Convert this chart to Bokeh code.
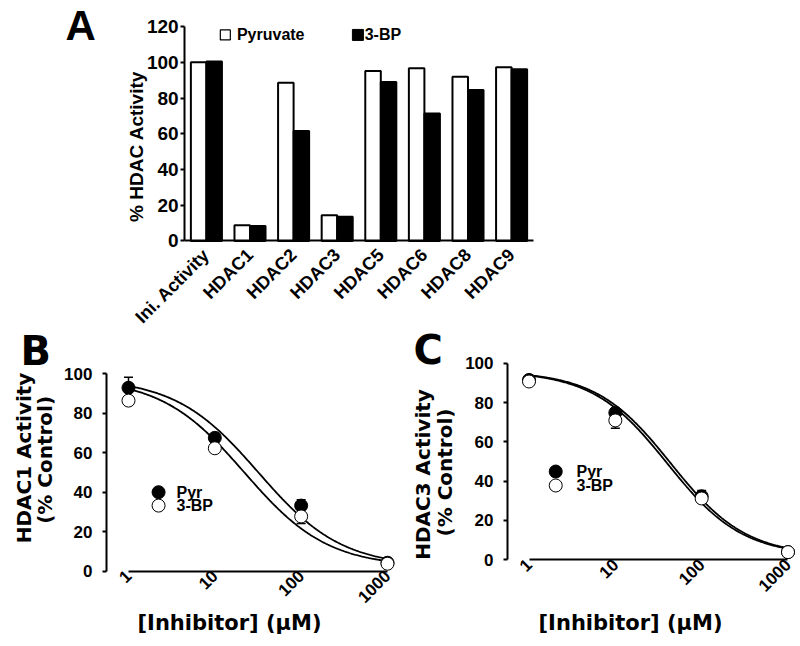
import math
import numpy as np
from bokeh.plotting import figure
from bokeh.layouts import column, row
from bokeh.models import (FactorRange, ColumnDataSource, Label, FixedTicker,
                          PrintfTickFormatter, Whisker, TeeHead, Range1d)
from bokeh.transform import dodge
from bokeh.core.properties import value
from bokeh.embed import file_html
from bokeh.resources import INLINE

# ---------------- Panel A data ----------------
hdac_groups = ["Ini. Activity", "HDAC1", "HDAC2", "HDAC3", "HDAC5", "HDAC6", "HDAC8", "HDAC9"]
pyruvate_pct = [100.0, 8.8, 88.6, 14.4, 95.1, 96.6, 91.9, 97.2]
bromopyruvate_pct = [100.4, 8.4, 61.5, 13.5, 88.9, 71.4, 84.5, 96.1]
a_yticks = [0, 20, 40, 60, 80, 100, 120]

# ---------------- Panels B / C data ----------------
conc_um = [1, 10, 100, 1000]
conc_ticks = [1, 10, 100, 1000]
dose_yticks = [0, 20, 40, 60, 80, 100]
b_pyr_mean = [93.0, 67.6, 33.2, 4.2]
b_pyr_err = [5.4, 2.0, 3.0, 0.5]
b_bp_mean = [86.5, 62.3, 27.7, 3.7]
b_bp_err = [2.0, 2.0, 3.6, 0.5]
c_pyr_mean = [91.5, 74.8, 32.3, 3.9]
c_pyr_err = [1.0, 1.5, 3.0, 0.5]
c_bp_mean = [90.7, 70.9, 31.2, 3.9]
c_bp_err = [1.0, 4.0, 1.5, 0.5]
# fitted logistic curves: top, bottom, IC50 (uM), Hill slope
b_pyr_fit = [98, 2, 32, 0.9]
b_bp_fit = [98, 2, 22, 0.9]
c_pyr_fit = [96, 2, 44, 1.0]
c_bp_fit = [96, 2, 40, 1.0]

FONT = "Liberation Sans"
WIDE = "DejaVu Sans"


def style_common(p):
    p.xgrid.visible = False
    p.ygrid.visible = False
    p.outline_line_color = None
    p.background_fill_color = "white"
    p.border_fill_color = "white"


def style_axis(ax, tick_size):
    ax.axis_line_color = "black"
    ax.axis_line_width = 2
    ax.major_label_text_font = FONT
    ax.major_label_text_font_style = "bold"
    ax.major_label_text_font_size = tick_size
    ax.major_label_text_color = "black"
    ax.minor_tick_line_color = None


def add_text(p, x, y, text, font, size, angle=0.0, align="center", baseline="middle"):
    p.add_layout(Label(x=x, y=y, text=text, text_font=font, text_font_style="bold",
                       text_font_size=size, angle=angle, text_align=align,
                       text_baseline=baseline, text_color="black"))


# ---------------- Panel A ----------------
# frame spans the whole canvas; the y axis sits at the left edge of the first group
pad_a = 4.2225
pA = figure(x_range=FactorRange(*hdac_groups, range_padding=pad_a, range_padding_units="absolute"),
            y_range=Range1d(-47.85, 134.57),
            width=800, height=326, output_backend="svg", toolbar_location=None,
            min_border_left=0, min_border_right=83, min_border_top=0, min_border_bottom=0)
style_common(pA)
srcA = ColumnDataSource(dict(cat=hdac_groups, pyr=pyruvate_pct, bp=bromopyruvate_pct))
pA.vbar(x=dodge("cat", -0.178, range=pA.x_range), top="pyr", width=0.356, source=srcA,
        fill_color="white", line_color="black", line_width=2)
pA.vbar(x=dodge("cat", 0.178, range=pA.x_range), top="bp", width=0.356, source=srcA,
        fill_color="black", line_color="black", line_width=2)

style_axis(pA.yaxis, "19px")
pA.yaxis.fixed_location = 0
pA.yaxis.ticker = FixedTicker(ticks=a_yticks)
pA.yaxis.bounds = (0, 120)
pA.yaxis.major_label_standoff = 2
pA.yaxis.major_tick_in = 0
pA.yaxis.major_tick_out = 4
pA.yaxis.major_tick_line_width = 2
pA.yaxis.major_tick_line_color = "black"

style_axis(pA.xaxis, "18px")
pA.xaxis.fixed_location = 0
pA.xaxis.bounds = (0, len(hdac_groups))
pA.xaxis.major_tick_line_color = None
pA.xaxis.major_label_orientation = math.pi / 4
pA.xaxis.major_label_standoff = 5

add_text(pA, -1.112, 52.9, "% HDAC Activity", FONT, "19px", angle=math.pi / 2)
add_text(pA, -2.73, 120.6, "A", FONT, "42px", align="left", baseline="alphabetic")

# legend for A
pA.scatter(x=[0.934], y=[115.3], marker="square", size=10, fill_color="white",
           line_color="black", line_width=1.2)
pA.scatter(x=[3.975], y=[115.3], marker="square", size=11, fill_color="black",
           line_color="black")
pA.text(x=[1.20, 4.13], y=[115.3, 115.3], text=["Pyruvate", "3-BP"],
        text_font=value(FONT), text_font_style="bold", text_font_size="16px",
        text_baseline="middle", text_align="left", text_color="black")


# ---------------- Panels B / C ----------------
def logistic(fit, xs):
    top, bottom, ic50, hill = fit
    return bottom + (top - bottom) / (1.0 + (xs / ic50) ** hill)


def dose_panel(letter, ylabel1, pyr_m, pyr_e, bp_m, bp_e, pyr_fit, bp_fit,
               x_range, y_range, y_axis_at, letter_xy, leg_x, leg_text_x, leg_y,
               ylab_x, ylab_y, xlab_xy):
    p = figure(x_axis_type="log", x_range=Range1d(*x_range), y_range=Range1d(*y_range),
               width=400, height=320, output_backend="svg", toolbar_location=None,
               min_border_left=0, min_border_right=0, min_border_top=0, min_border_bottom=0)
    style_common(p)
    xs = np.logspace(0, 3, 300)
    p.line(xs, logistic(pyr_fit, xs), line_color="black", line_width=1.8)
    p.line(xs, logistic(bp_fit, xs), line_color="black", line_width=1.8)

    pyr_src = ColumnDataSource(dict(x=conc_um, y=pyr_m,
                                    up=[m + e for m, e in zip(pyr_m, pyr_e)]))
    bp_src = ColumnDataSource(dict(x=conc_um, y=bp_m,
                                   lo=[m - e for m, e in zip(bp_m, bp_e)]))
    p.add_layout(Whisker(base="x", upper="up", lower="y", source=pyr_src, dimension="height",
                         line_color="black", line_width=1.5,
                         upper_head=TeeHead(size=9, line_color="black", line_width=1.5),
                         lower_head=None))
    p.add_layout(Whisker(base="x", upper="y", lower="lo", source=bp_src, dimension="height",
                         line_color="black", line_width=1.5,
                         lower_head=TeeHead(size=9, line_color="black", line_width=1.5),
                         upper_head=None))
    p.scatter("x", "y", source=pyr_src, marker="circle", size=13,
              fill_color="black", line_color="black", line_width=1)
    p.scatter("x", "y", source=bp_src, marker="circle", size=13,
              fill_color="white", line_color="black", line_width=1)

    # legend
    p.scatter([leg_x, leg_x], leg_y, marker="circle", size=13,
              fill_color=["black", "white"], line_color="black", line_width=1)
    p.text([leg_text_x, leg_text_x], leg_y, text=["Pyr", "3-BP"],
           text_font=value(FONT), text_font_style="bold", text_font_size="16px",
           text_baseline="middle", text_align="left", text_color="black")

    style_axis(p.xaxis, "17px")
    p.xaxis.fixed_location = 0
    p.xaxis.ticker = FixedTicker(ticks=conc_ticks)
    p.xaxis.formatter = PrintfTickFormatter(format="%d")
    p.xaxis.bounds = (1, 1000)
    p.xaxis.major_label_orientation = math.pi / 4
    p.xaxis.major_tick_line_color = None
    p.xaxis.major_tick_out = 0
    p.xaxis.major_label_standoff = 2

    style_axis(p.yaxis, "17px")
    p.yaxis.fixed_location = y_axis_at
    p.yaxis.ticker = FixedTicker(ticks=dose_yticks)
    p.yaxis.bounds = (0, 100)
    p.yaxis.major_tick_in = 0
    p.yaxis.major_tick_out = 4
    p.yaxis.major_tick_line_width = 2
    p.yaxis.major_tick_line_color = "black"
    p.yaxis.major_label_standoff = 10

    # axis titles and panel letter
    add_text(p, ylab_x[0], ylab_y[0], ylabel1, WIDE, "20px", angle=math.pi / 2)
    add_text(p, ylab_x[1], ylab_y[1], "(% Control)", WIDE, "20px", angle=math.pi / 2)
    add_text(p, xlab_xy[0], xlab_xy[1], "[Inhibitor] (\u03bcM)", WIDE, "21px")
    add_text(p, letter_xy[0], letter_xy[1], letter, WIDE, "40px", align="left",
             baseline="alphabetic")
    return p


pB = dose_panel("B", "HDAC1 Activity", b_pyr_mean, b_pyr_err, b_bp_mean, b_bp_err,
                b_pyr_fit, b_bp_fit, (0.03292, 1415), (-38.32, 124.11), 0.5557,
                (0.0561, 111.9), 2.23, 3.6, [40.0, 33.2],
                (0.0624, 0.1093), (57.4, 56.4), (14.8, -26.5))
pC = dose_panel("C", "HDAC3 Activity", c_pyr_mean, c_pyr_err, c_bp_mean, c_bp_err,
                c_pyr_fit, c_bp_fit, (0.03247, 1396), (-44.10, 118.67), 0.5636,
                (0.0459, 106.5), 2.04, 3.55, [44.9, 37.8],
                (0.0592, 0.1078), (43.4, 44.4), (15.0, -32.2))

layout = column(pA, row(pB, pC))
open("out.html", "w").write(file_html(layout, INLINE))
